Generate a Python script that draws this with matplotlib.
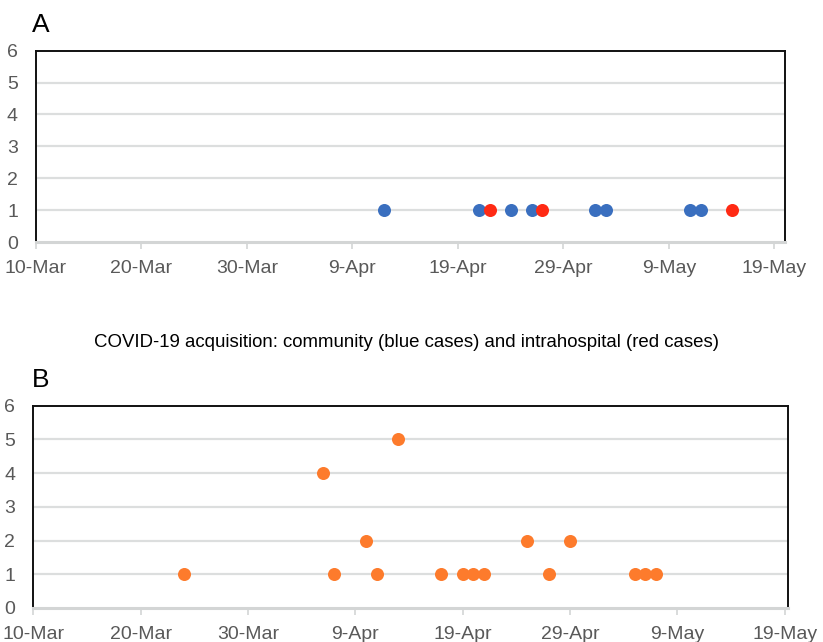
import matplotlib
matplotlib.use("Agg")
import matplotlib.pyplot as plt
import pandas as pd

plt.rcParams['font.family'] = ['Liberation Sans', 'DejaVu Sans']

# ---- data ----
tick_dates = ["2020-03-10", "2020-03-20", "2020-03-30", "2020-04-09",
              "2020-04-19", "2020-04-29", "2020-05-09", "2020-05-19"]
tick_labels = ["10-Mar", "20-Mar", "30-Mar", "9-Apr", "19-Apr", "29-Apr", "9-May", "19-May"]
y_ticks = [0, 1, 2, 3, 4, 5, 6]

a_blue_dates = ["2020-04-12", "2020-04-21", "2020-04-24", "2020-04-26",
                "2020-05-02", "2020-05-03", "2020-05-11", "2020-05-12"]
a_blue_vals = [1, 1, 1, 1, 1, 1, 1, 1]
a_red_dates = ["2020-04-22", "2020-04-27", "2020-05-15"]
a_red_vals = [1, 1, 1]

b_dates = ["2020-03-24", "2020-04-06", "2020-04-07", "2020-04-10", "2020-04-11",
           "2020-04-13", "2020-04-17", "2020-04-19", "2020-04-20", "2020-04-21",
           "2020-04-25", "2020-04-27", "2020-04-29", "2020-05-05", "2020-05-06",
           "2020-05-07"]
b_vals = [1, 4, 1, 2, 1, 5, 1, 1, 1, 1, 2, 1, 2, 1, 1, 1]

title = "COVID-19 acquisition: community (blue cases) and intrahospital (red cases)"

BLUE = "#3a6fbf"
RED = "#ff2a14"
ORANGE = "#fd7b2c"
GRID = "#dcdede"
TXT = "#595959"

fig = plt.figure(figsize=(8.23, 6.42), dpi=100)

def style(ax, x_end_days):
    start = pd.Timestamp(tick_dates[0])
    ax.set_xlim(start, start + pd.Timedelta(days=x_end_days))
    ax.set_ylim(0, 6)
    ax.set_xticks(pd.to_datetime(tick_dates))
    ax.set_xticklabels(tick_labels)
    ax.set_yticks(y_ticks)
    ax.set_yticklabels([str(v) for v in y_ticks])
    for v in y_ticks[1:-1]:
        ax.axhline(v, color=GRID, lw=1.6, zorder=1)
    for s in ['left', 'top', 'right']:
        ax.spines[s].set_color('#111111')
        ax.spines[s].set_linewidth(1.4)
    ax.spines['bottom'].set_color('#d3d5d5')
    ax.spines['bottom'].set_linewidth(2.2)
    ax.tick_params(axis='x', length=5, width=1.2, color='#d3d5d5',
                   labelsize=14, labelcolor=TXT, pad=8)
    ax.tick_params(axis='y', length=0, labelsize=14, labelcolor=TXT, pad=13)

ms = 88

axA = fig.add_axes([0.0437, 0.623, 0.9101, 0.298])
style(axA, 71.0)
axA.scatter(pd.to_datetime(a_blue_dates), a_blue_vals, s=ms, color=BLUE, zorder=3, linewidths=0)
axA.scatter(pd.to_datetime(a_red_dates), a_red_vals, s=ms, color=RED, zorder=4, linewidths=0)

axB = fig.add_axes([0.0405, 0.053, 0.917, 0.315])
style(axB, 70.3)
axB.scatter(pd.to_datetime(b_dates), b_vals, s=ms, color=ORANGE, zorder=3, linewidths=0)

fig.text(0.039, 0.961, "A", fontsize=19, va='center', ha='left', color='black')
fig.text(0.039, 0.408, "B", fontsize=19, va='center', ha='left', color='black')
fig.text(0.494, 0.4665, title, fontsize=13.4, va='center', ha='center', color='black')

fig.savefig("out.png", dpi=100)
